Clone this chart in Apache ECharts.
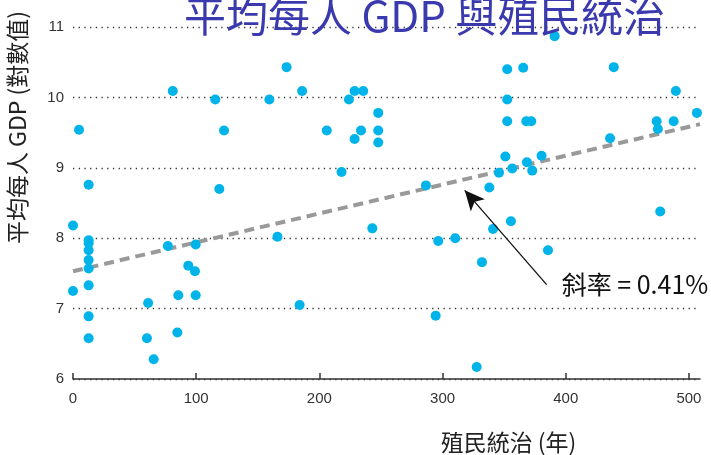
<!DOCTYPE html>
<html><head><meta charset="utf-8">
<script src="https://cdn.jsdelivr.net/npm/echarts@6/dist/echarts.min.js"></script>
<style>html,body{margin:0;padding:0;background:#fff}#c{width:711px;height:455px}</style>
</head><body><div id="c"></div>
<script>
const titleText = '平均每人 GDP 與殖民統治';
const xName = '殖民統治 (年)';
const yName = '平均每人 GDP (對數值)';
const xTicks = [0, 100, 200, 300, 400, 500];
const yTicks = [6, 7, 8, 9, 10, 11];
const colonialYears = [4.9, 12.7, 0, 12.7, 12.7, 12.7, 12.7, 12.7, 12.7, 12.7, 12.7, 0, 61, 60, 65.5, 77, 85.5, 84.7, 93.6, 99, 99.6, 99.6, 118.8, 166, 184, 243,
  81, 115.5, 122.6, 159.4, 173.4, 186, 206, 218, 224, 228.6, 235.6, 228.6, 233.8, 247.8, 247.8, 247.8,
  391, 352.5, 365.5, 439, 352.5, 489.4, 352.5, 368, 372, 473.8, 487.6, 506.5, 474.8, 436, 351, 380.4, 368.5, 356.6, 372.8, 345.8, 286.5, 338,
  355.5, 341, 296.5, 310.3, 332, 385.6, 476.7, 294.4, 327.7];
const logGdp = [9.54, 8.76, 8.18, 7.97, 7.93, 7.83, 7.69, 7.57, 7.33, 6.89, 6.58, 7.25, 7.08, 6.58, 6.28, 7.89, 7.19, 6.66, 7.61, 7.53, 7.91, 7.19, 8.70, 8.02, 7.05, 8.14,
  10.09, 9.97, 9.53, 9.97, 10.43, 10.09, 9.53, 8.94, 9.97, 10.09, 10.09, 9.41, 9.53, 9.78, 9.53, 9.36,
  10.87, 10.40, 10.42, 10.43, 9.97, 10.09, 9.66, 9.66, 9.66, 9.66, 9.66, 9.78, 9.55, 9.42, 9.16, 9.17, 9.08, 8.99, 8.96, 8.93, 8.75, 8.72,
  8.24, 8.13, 7.96, 8.00, 7.66, 7.83, 8.38, 6.90, 6.17];
const trendX = [0, 509];
const trendY = [7.53, 9.62];
const arrowFrom = [384.5, 7.34];
const arrowTo = [318, 8.68];
const slopeLabel = '斜率 = 0.41%';

const points = colonialYears.map((x, i) => [x, logGdp[i]]);
const trend = trendX.map((x, i) => [x, trendY[i]]);

const chart = echarts.init(document.getElementById('c'));
chart.setOption({
  animation: false,
  title: {
    text: titleText, left: 179, top: -10,
    textStyle: { fontFamily: 'Noto Sans CJK TC', fontSize: 42, fontWeight: 'normal', color: '#3a3aae' }
  },
  grid: { left: 73, right: 11, top: 27, bottom: 76, outerBoundsMode: 'none', containLabel: false },
  xAxis: {
    type: 'value', min: 0, max: 509, interval: 100,
    name: xName, nameLocation: 'middle', nameGap: 52,
    nameTextStyle: { fontFamily: 'Noto Sans CJK TC', fontSize: 23, color: '#222', padding: [0, 0, 0, 244] },
    axisLine: { show: true, lineStyle: { color: '#333', width: 1.5 } },
    axisTick: { show: true, inside: true, length: 6, customValues: xTicks, lineStyle: { color: '#333', width: 1.5 } },
    axisLabel: { customValues: xTicks, margin: 12, fontFamily: 'Liberation Sans', fontSize: 15, color: '#333' },
    splitLine: { show: false }
  },
  yAxis: {
    type: 'value', min: 6, max: 11, interval: 1,
    name: yName, nameLocation: 'middle', nameGap: 44, nameRotate: 90,
    nameTextStyle: { fontFamily: 'Noto Sans CJK TC', fontSize: 23, color: '#222', padding: [0, 0, 0, 151] },
    axisLine: { show: false }, axisTick: { show: false },
    axisLabel: { margin: 9, fontFamily: 'Liberation Sans', fontSize: 15, color: '#333',
      formatter: v => yTicks.includes(v) ? String(v) : '' },
    splitLine: { show: true, lineStyle: { color: '#333', width: 1.3, type: [1.3, 4.4] } }
  },
  series: [
    {
      type: 'line', data: trend, symbol: 'none', z: 2,
      lineStyle: { color: '#999', width: 4, type: [10, 6] },
      markLine: {
        silent: true, symbol: ['none', 'arrow'], symbolSize: [14, 20], z: 5,
        lineStyle: { color: '#111', width: 1.3, type: 'solid' },
        label: { show: false },
        data: [[{ coord: arrowFrom }, { coord: arrowTo }]]
      },
      markPoint: {
        silent: true, symbol: 'circle', symbolSize: 0,
        label: { show: true, position: 'right', distance: 15, formatter: slopeLabel,
          fontFamily: 'Noto Sans CJK TC', fontSize: 25, color: '#111' },
        data: [{ coord: arrowFrom }]
      }
    },
    {
      type: 'scatter', data: points, symbol: 'circle', symbolSize: 10, z: 3, clip: false,
      itemStyle: { color: '#00b4ea', opacity: 1 }
    }
  ]
});
</script></body></html>
